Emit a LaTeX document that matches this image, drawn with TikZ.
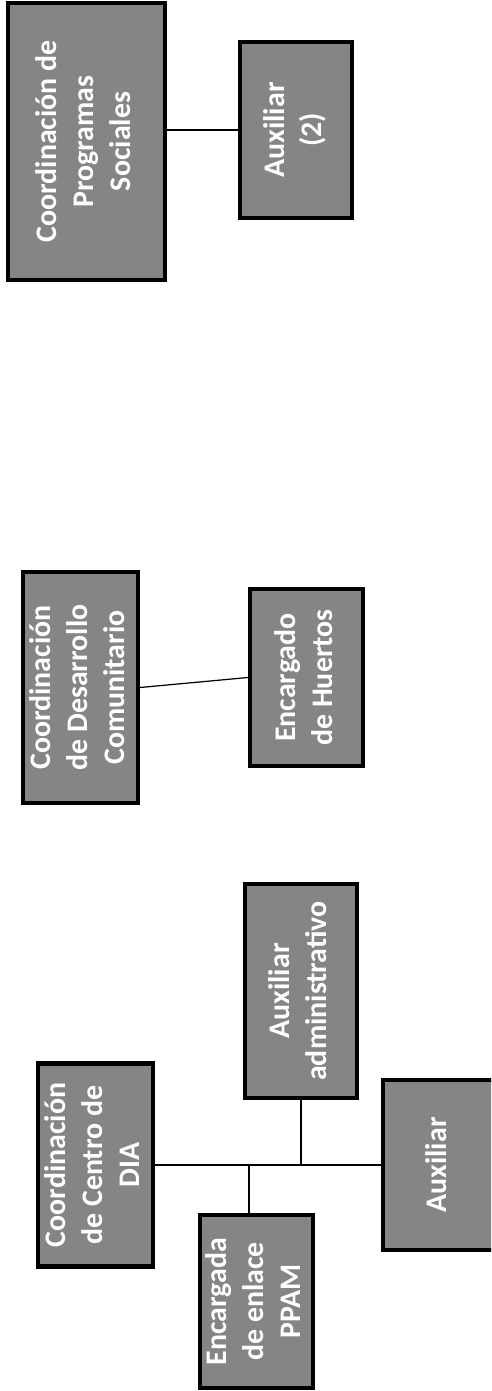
\documentclass[tikz,border=0pt]{standalone}
\usepackage{fontspec}
\setmainfont{Carlito}
\usepackage{graphicx}
\newcommand{\vlabel}[1]{\rotatebox{90}{\begin{tabular}{@{}c@{}}#1\end{tabular}}}

\begin{document}
\begin{tikzpicture}[x=0.02cm,y=-0.02cm,-,thick,
    unit box/.style={rectangle,draw=black,line width=2.4pt,fill=black!48,text=white,inner sep=0pt,font=\bfseries\fontsize{17}{21}\selectfont},
    link/.style={draw=black,line width=0.7pt}]
    \clip (0,0) rectangle (491,1391);
    \fill[white] (0,0) rectangle (491,1391);

    \node[unit box,minimum width=3.14cm,minimum height=5.54cm] (ps) at (86.5,141.5) {\vlabel{Coordinación de\\Programas\\Sociales}};
    \node[unit box,minimum width=2.24cm,minimum height=3.52cm] (aux2) at (296,130) {\vlabel{Auxiliar\\(2)}};
    \node[unit box,minimum width=2.30cm,minimum height=4.62cm] (dc) at (80.5,687.5) {\vlabel{Coordinación\\de Desarrollo\\Comunitario}};
    \node[unit box,minimum width=2.26cm,minimum height=3.54cm] (eh) at (306.5,677.5) {\vlabel{Encargado\\de Huertos}};
    \node[unit box,minimum width=2.24cm,minimum height=4.28cm] (aa) at (301,991) {\vlabel{Auxiliar\\administrativo}};
    \node[unit box,minimum width=2.30cm,minimum height=4.06cm] (cd) at (95.5,1165) {\vlabel{Coordinación\\de Centro de\\DIA}};
    \node[unit box,minimum width=2.26cm,minimum height=3.46cm] (ep) at (256.5,1301.5) {\vlabel{Encargada\\de enlace\\PPAM}};
    \node[unit box,minimum width=2.26cm,minimum height=3.40cm] (ax) at (439.5,1165) {\vlabel{Auxiliar}};

    \coordinate (j1) at (249,1165);

    \path[link]
        (aux2.west) edge (aux2.west -| ps.east)
        (dc.east) edge (eh.west)
        (cd.east) edge (ax.west)
        (j1) edge (j1 |- ep.north)
        (aa.south) edge (aa.south |- cd.east)
        ;
\end{tikzpicture}
\end{document}
